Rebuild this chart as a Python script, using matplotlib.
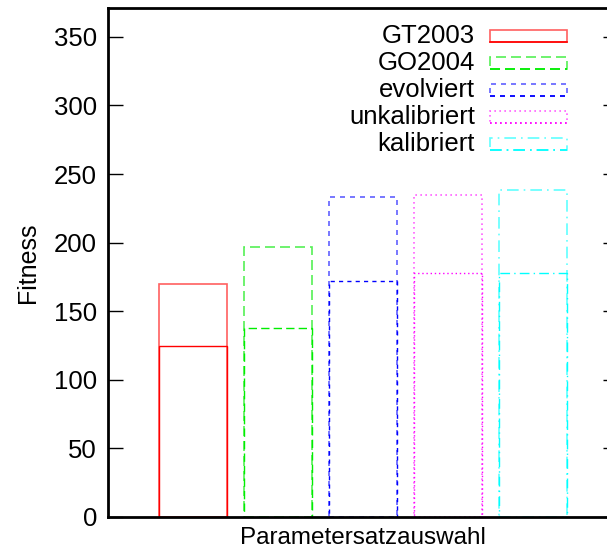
import matplotlib
matplotlib.use("Agg")
import matplotlib.pyplot as plt
import numpy as np

plt.rcParams['font.family'] = ['Liberation Sans', 'DejaVu Sans']

# Data
labels = ["GT2003", "GO2004", "evolviert", "unkalibriert", "kalibriert"]
low_values = [125, 137.5, 172, 177.5, 178]
high_values = [170, 196.5, 233.5, 235, 238.5]

# Styles
colors = ['#ff0000', '#00ee00', '#0000ff', '#ff00ff', '#00ffff']
light = ['#ff6060', '#55f055', '#6060ff', '#ff60ff', '#60ffff']
styles = ['-', (0, (6, 3)), (0, (3, 3)), (0, (1, 2)), (0, (7, 3, 1, 3))]

W, H = 607, 557
fig = plt.figure(figsize=(W / 100, H / 100), dpi=100)
ax = fig.add_axes([108 / W, 1 - 517 / H, 510 / W, 509 / H])

x = np.arange(1, len(labels) + 1)
width = 0.8
for i in range(len(labels)):
    ax.bar(x[i], high_values[i], width=width, fill=False, edgecolor=light[i],
           linestyle=styles[i], linewidth=1.2, label=labels[i])
    ax.bar(x[i], low_values[i], width=width, fill=False, edgecolor=colors[i],
           linestyle=styles[i], linewidth=1.0)

ax.set_xlim(0, 6)
ax.set_ylim(0, 371)
ax.set_xticks([])
ax.set_yticks(np.arange(0, 351, 50))
ax.tick_params(axis='y', direction='in', length=11, width=1, labelsize=18.5,
               right=True, pad=8)
for s in ax.spines.values():
    s.set_linewidth(2)

ax.set_xlabel("Parametersatzauswahl", fontsize=17.5, labelpad=7)
ax.set_ylabel("Fitness", fontsize=18, labelpad=10)

# Legend: text right-aligned, sample boxes to the right
for i, lab in enumerate(labels):
    yp = 36 + i * 27
    fig.text(475 / W, 1 - yp / H, lab, ha='right', va='center', fontsize=18.5)
    rect = plt.Rectangle((490 / W, 1 - (yp + 6) / H), 77 / W, 12 / H,
                         transform=fig.transFigure, fill=False,
                         edgecolor=light[i], linestyle=styles[i], linewidth=1.2)
    fig.add_artist(rect)
    fig.add_artist(plt.Line2D([490 / W, 567 / W], [1 - (yp + 6) / H] * 2,
                              transform=fig.transFigure, color=colors[i],
                              linestyle=styles[i], linewidth=1.2))

plt.savefig("out.png", dpi=100)
